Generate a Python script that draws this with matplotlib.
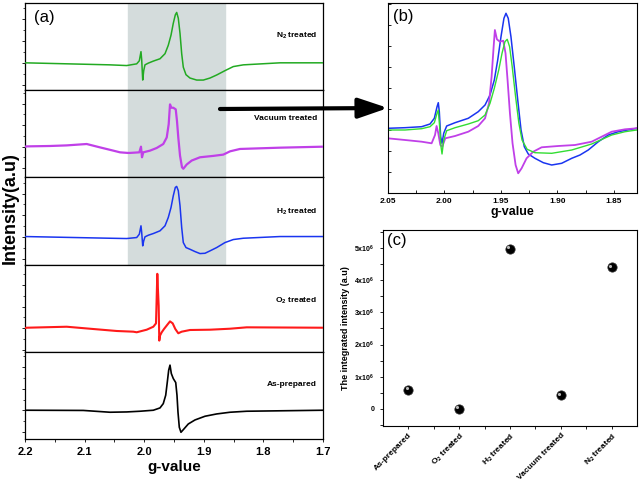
import matplotlib
matplotlib.use("Agg")
import numpy as np
import matplotlib.pyplot as plt
from matplotlib.ticker import MultipleLocator, FixedLocator
from matplotlib.patches import FancyArrowPatch, ArrowStyle
from matplotlib.transforms import offset_copy

plt.rcParams['font.family'] = ['Liberation Sans', 'DejaVu Sans']
plt.rcParams['mathtext.fontset'] = 'custom'
plt.rcParams['mathtext.rm'] = 'Liberation Sans:bold'
plt.rcParams['mathtext.bf'] = 'Liberation Sans:bold'
plt.rcParams['mathtext.it'] = 'Liberation Sans:bold'
plt.rcParams['lines.solid_joinstyle'] = 'round'

# ---- panel (a) spectra, g-value vs intensity (a.u., own scale per panel)
g_n2 = [2.200, 2.0574, 2.0294, 2.0126, 2.0082, 2.0054, 2.0042, 2.0025, 2.0008, 1.9987,
        1.9931, 1.9847, 1.9735, 1.9651, 1.9596, 1.9550, 1.9512, 1.9478, 1.9455, 1.9428,
        1.9399, 1.9371, 1.9344, 1.9299, 1.9232, 1.9119, 1.9008, 1.8896, 1.8784, 1.8644,
        1.8505, 1.8337, 1.7722, 1.700]
i_n2 = [0, -2, -2.7, -1, 2, 11, 3, -17, -7.7, -2, -0.3, 1.7, 4, 9, 17.3, 27.3, 39, 47.3,
        49.7, 44, 29, 9, -4.3, -11.7, -15, -17, -17, -15, -12, -7.7, -3.7, -2, 0, 0]

g_vac = [2.200, 2.1971, 2.158, 2.130, 2.0965, 2.0742, 2.0518, 2.0406, 2.0277, 2.0238,
         2.0082, 2.0054, 2.0037, 2.0015, 1.9903, 1.9790, 1.9680, 1.9622, 1.9589, 1.9567,
         1.9545, 1.9512, 1.9471, 1.9450, 1.9428, 1.9399, 1.9366, 1.9344, 1.9287, 1.9203,
         1.9064, 1.8841, 1.8673, 1.8560, 1.8393, 1.7722, 1.700]
i_vac = [0, 0.3, 0.7, 1.3, 2.7, -0.7, -4, -5.7, -6.3, -6.3, -5.7, 0, -10.7, -5.7, -4,
         -1.3, 2.7, 9.3, 22.7, 42.7, 39.3, 39.3, 37.7, 26, 9.3, -9, -20.7, -22.3, -18, -14,
         -10.7, -9.3, -8, -4.7, -2.3, -1, 0]

g_h2 = [2.200, 2.0574, 2.0294, 2.0126, 2.0082, 2.0054, 2.0042, 2.0025, 2.0008, 1.9987,
        1.9931, 1.9847, 1.9735, 1.9651, 1.9596, 1.9550, 1.9512, 1.9478, 1.9455, 1.9428,
        1.9399, 1.9371, 1.9344, 1.9299, 1.9232, 1.9148, 1.9064, 1.8980, 1.8896, 1.8784,
        1.8644, 1.8505, 1.8337, 1.7722, 1.700]
i_h2 = [0.5, -1.2, -1.5, -0.5, 2.8, 11.2, 4.5, -8.8, -3.8, 0.2, 1.8, 3.5, 6.2, 11.2, 19.5,
        29.5, 41.2, 49.5, 50.5, 46.2, 31.2, 9.5, -5.5, -10.5, -12.2, -14.5, -16.5, -16.2,
        -13.8, -10.5, -5.5, -2.5, -1.2, 0.5, 0.5]

g_o2 = [2.200, 2.1971, 2.130, 2.0854, 2.0461, 2.0183, 2.0126, 1.9958, 1.9847, 1.9802,
        1.9780, 1.9768, 1.9757, 1.9747, 1.9735, 1.9706, 1.9668, 1.9612, 1.9567, 1.9522,
        1.9478, 1.9428, 1.9371, 1.9232, 1.8896, 1.8560, 1.8280, 1.700]
i_o2 = [0, 0.3, 1.3, -1, -3, -3.7, -4.3, -1.7, 1.3, 4.7, 54.7, 37, 22.3, -12.7, -7.7,
        -4.3, -1, 3.3, 6.7, 4.7, -1, -5.3, -3.7, -2, -1.7, -0.7, 0.7, 0.3]

g_as = [2.200, 2.1971, 2.1022, 2.0574, 2.0294, 2.0070, 1.9847, 1.9735, 1.9680, 1.9639,
        1.9612, 1.9589, 1.9567, 1.9545, 1.9512, 1.9471, 1.9450, 1.9433, 1.9411, 1.9383,
        1.9344, 1.9260, 1.9148, 1.8980, 1.8784, 1.8560, 1.8280, 1.700]
i_as = [0, 0.2, 0, -1.8, -1.5, -0.8, 0.2, 2.5, 6.8, 15.2, 28.5, 40.2, 45.2, 36.8, 31.8,
        27.8, 15.2, -1.8, -16.8, -21.8, -19.2, -13.5, -9.5, -5.8, -3.5, -1.8, -0.8, 0.2]

labels_a = ['N$_2$ treated', 'Vacuum treated', 'H$_2$ treated', 'O$_2$ treated', 'As-prepared']

# ---- panel (b) zoomed overlay
gb_h2 = [2.050, 2.0347, 2.0200, 2.0126, 2.0088, 2.0064, 2.0053, 2.0044, 2.0032, 2.0020,
         2.0005, 1.9979, 1.9905, 1.9788, 1.9700, 1.9640, 1.9596, 1.9558, 1.9528, 1.9499,
         1.9473, 1.9455, 1.9435, 1.9411, 1.9382, 1.9351, 1.9322, 1.9293, 1.9258, 1.9199,
         1.9125, 1.9051, 1.8963, 1.8874, 1.8801, 1.8728, 1.8639, 1.8551, 1.8463, 1.8300]
ib_h2 = [1.7, 2.3, 3.3, 6, 11.7, 23.3, 27.3, 18.3, -6.7, -13.3, -3.3, 4, 7.3, 11.7, 18.3,
         25, 35, 50, 70, 93.3, 111.7, 116.7, 111.7, 93.3, 63.3, 30, 0, -16.7, -24, -28.3,
         -32.7, -35, -33.3, -28.3, -25, -20, -11.7, -5, -1.7, 1.7]

gb_n2 = [2.050, 2.0347, 2.0200, 2.0126, 2.0088, 2.0064, 2.0053, 2.0041, 2.0029, 2.0020,
         2.0005, 1.9979, 1.9905, 1.9788, 1.9700, 1.9640, 1.9596, 1.9558, 1.9519, 1.9490,
         1.9464, 1.9444, 1.9423, 1.9400, 1.9370, 1.9341, 1.9313, 1.9268, 1.9199, 1.9051,
         1.8874, 1.8698, 1.8521, 1.8403, 1.8300]
ib_n2 = [0, 0, 1.3, 3.3, 7.3, 16.7, 20, 3.3, -16.7, -24, -10, -0.7, 2.3, 6, 9.3, 15, 26.7,
         41.7, 60, 76.7, 88.3, 90.7, 83.3, 63.3, 33.3, 6.7, -10, -19.3, -22.7, -23.3, -20,
         -14, -5, -1.7, 0]

gb_vac = [2.050, 2.0347, 2.0200, 2.0112, 2.0082, 2.0068, 2.0053, 2.0035, 2.0018, 1.9991,
          1.9905, 1.9788, 1.9700, 1.9640, 1.9605, 1.9582, 1.9564, 1.9553, 1.9535, 1.9509,
          1.9479, 1.9459, 1.9441, 1.9420, 1.9397, 1.9370, 1.9347, 1.9317, 1.9273, 1.9214,
          1.9140, 1.8993, 1.8845, 1.8698, 1.8521, 1.8403, 1.8300]
ib_vac = [-8.3, -10, -11.7, -13.3, -5, 4, -3.3, -15, -16.7, -8.3, -6, -1.7, 4, 11.7, 26.7,
          53.3, 83.3, 100, 90.7, 88.3, 89.3, 76.7, 50, 16.7, -13.3, -35, -43.3, -38.3,
          -28.3, -21.7, -17.3, -16, -15, -11.7, -1.7, 0.7, 1.7]

# ---- panel (c) integrated intensity
samples = ['As-prepared', 'O$_2$ treated', 'H$_2$ treated', 'Vacuum treated', 'N$_2$ treated']
integrated = [0.6e6, 0.0, 4.97e6, 0.42e6, 4.4e6]

fig = plt.figure(figsize=(6.4, 4.83), dpi=100)

# ---------------- (a)
spectra = [(g_n2, i_n2, '#22aa22', 1.1, (-27, 59)),
           (g_vac, i_vac, '#c040e8', 1.6, (-31, 57)),
           (g_h2, i_h2, '#1a35f0', 1.1, (-27.5, 59.5)),
           (g_o2, i_o2, '#ff1a1a', 1.5, (-24, 64)),
           (g_as, i_as, 'black', 1.2, (-28.5, 58.5))]
label_y = [0.62, 0.67, 0.61, 0.58, 0.63]

left_a, width_a = 25 / 640, 298 / 640
top_a, bot_a = 1 - 3 / 483, 1 - 439 / 483
h = (top_a - bot_a) / 5
axes_a = []
for k, (g, inten, col, lw, yl) in enumerate(spectra):
    ax = fig.add_axes([left_a, top_a - (k + 1) * h, width_a, h])
    ax.plot(g, inten, color=col, lw=lw, zorder=3)
    if k < 3:
        ax.axvspan(2.027, 1.864, color='#d4dcdc', zorder=0)
    ax.set_xlim(2.2, 1.7)
    ax.set_ylim(*yl)
    ax.yaxis.set_major_locator(MultipleLocator(21.7))
    ax.yaxis.set_minor_locator(MultipleLocator(10.85))
    ax.set_yticklabels([])
    ax.tick_params(axis='y', which='major', direction='out', length=2.5, width=0.6)
    ax.tick_params(axis='y', which='minor', direction='out', length=1.5, width=0.5)
    ax.xaxis.set_major_locator(MultipleLocator(0.1))
    ax.xaxis.set_minor_locator(MultipleLocator(0.05))
    ax.tick_params(axis='x', which='both', direction='out', length=2.5, width=0.6)
    if k < 4:
        ax.tick_params(axis='x', which='both', length=0, labelbottom=False)
    ax.text(0.98, label_y[k], labels_a[k], transform=ax.transAxes, ha='right',
            va='center', fontsize=6, fontweight='bold')
    for s in ax.spines.values():
        s.set_linewidth(0.9)
    axes_a.append(ax)

ax5 = axes_a[-1]
for t in ax5.get_xticklabels():
    t.set_fontweight('bold')
ax5.tick_params(axis='x', labelsize=8)
ax5.set_xlabel('g-value', fontsize=11, fontweight='bold', labelpad=2)
axes_a[0].text(0.03, 0.92, '(a)', transform=axes_a[0].transAxes, fontsize=12,
               va='top', ha='left')
fig.text(0.016, 0.57, 'Intensity(a.u)', rotation=90, fontsize=13, fontweight='bold',
         ha='center', va='center')

# ---------------- (b)
axb = fig.add_axes([387.7 / 640, 1 - 193 / 483, 249 / 640, 190 / 483])
axb.plot(gb_h2, ib_h2, color='#1a35f0', lw=1.1)
axb.plot(gb_vac, ib_vac, color='#c040e8', lw=1.3)
axb.plot(gb_n2, ib_n2, color='#33dd33', lw=1.0)
axb.set_xlim(2.05, 1.83)
axb.set_ylim(-63, 127)
axb.xaxis.set_major_locator(FixedLocator([2.05, 2.00, 1.95, 1.90, 1.85]))
axb.xaxis.set_minor_locator(MultipleLocator(0.025))
axb.set_xticklabels(['2.05', '2.00', '1.95', '1.90', '1.85'], fontsize=6, fontweight='bold')
axb.yaxis.set_major_locator(MultipleLocator(21))
axb.set_yticklabels([])
axb.tick_params(which='both', direction='in', length=2.5, width=0.6)
axb.set_xlabel('g-value', fontsize=9, fontweight='bold', labelpad=1)
axb.text(0.02, 0.97, '(b)', transform=axb.transAxes, fontsize=12, va='top', ha='left')

# ---------------- (c)
axc = fig.add_axes([383 / 640, 1 - 426 / 483, 254 / 640, 196 / 483])
xc = np.arange(len(samples))
axc.scatter(xc, integrated, s=45, color='black', edgecolors='#333333', lw=0.5, zorder=3)
hl = offset_copy(axc.transData, fig=fig, x=-1.3, y=1.3, units='points')
axc.scatter(xc, integrated, s=5, color='#bbbbbb', lw=0, zorder=4, transform=hl)
axc.set_xlim(-0.5, 4.5)
axc.set_ylim(-0.53e6, 5.56e6)
axc.set_xticks(xc)
axc.set_xticklabels(samples, rotation=45, ha='right', rotation_mode='anchor',
                    fontsize=6, fontweight='bold')
axc.tick_params(axis='x', pad=1.5)
axc.xaxis.set_minor_locator(FixedLocator(xc[:-1] + 0.5))
yt = [0, 1e6, 2e6, 3e6, 4e6, 5e6]
axc.set_yticks(yt)
axc.set_yticklabels(['0'] + ['%dx10$^{6}$' % v for v in range(1, 6)], fontsize=5,
                    fontweight='bold')
axc.yaxis.set_minor_locator(MultipleLocator(0.5e6))
axc.tick_params(which='both', direction='out', length=2.5, width=0.6)
axc.set_ylabel('The integrated intensity (a.u)', fontsize=6.5, fontweight='bold',
               labelpad=3)
axc.text(0.015, 0.985, '(c)', transform=axc.transAxes, fontsize=12, va='top', ha='left')

# ---------------- arrow from (a) to (b)
arr = FancyArrowPatch((220 / 640, 1 - 109 / 483), (388 / 640, 1 - 108 / 483),
                      transform=fig.transFigure,
                      arrowstyle=ArrowStyle('-|>', head_length=0.5, head_width=0.17),
                      mutation_scale=36, lw=3, color='black', shrinkA=0, shrinkB=0)
fig.add_artist(arr)

fig.savefig('out.png', dpi=100)
